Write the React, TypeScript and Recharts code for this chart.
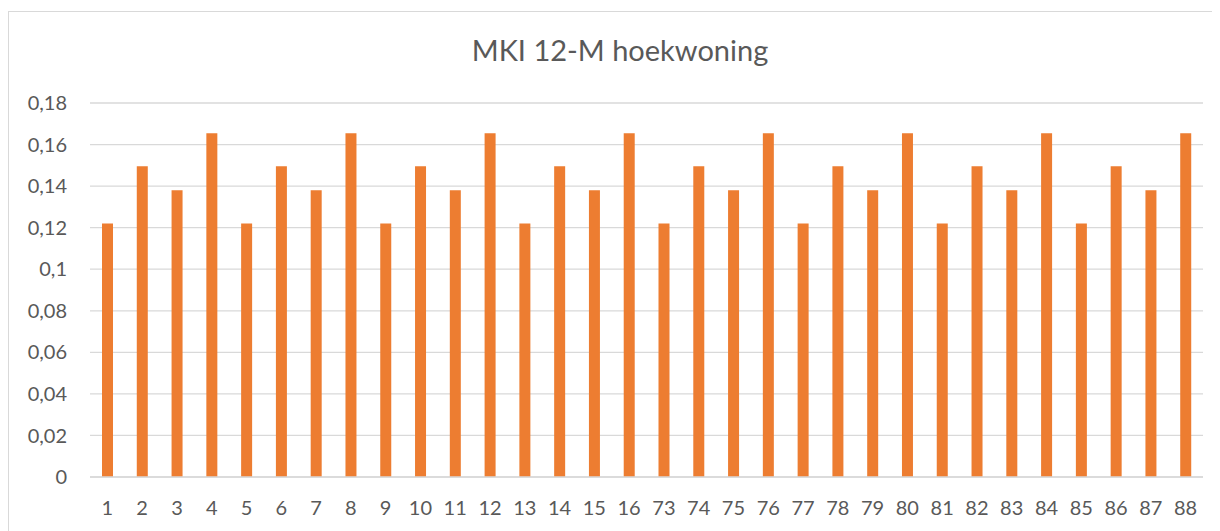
import React from 'react';
import { BarChart, Bar, XAxis, YAxis, CartesianGrid } from 'recharts';

const categories = ['1','2','3','4','5','6','7','8','9','10','11','12','13','14','15','16','73','74','75','76','77','78','79','80','81','82','83','84','85','86','87','88'];
const values = [0.122,0.1495,0.138,0.1655,0.122,0.1495,0.138,0.1655,0.122,0.1495,0.138,0.1655,0.122,0.1495,0.138,0.1655,0.122,0.1495,0.138,0.1655,0.122,0.1495,0.138,0.1655,0.122,0.1495,0.138,0.1655,0.122,0.1495,0.138,0.1655];
const yTicks = [0,0.02,0.04,0.06,0.08,0.1,0.12,0.14,0.16,0.18];
const yTickLabels = ['0','0,02','0,04','0,06','0,08','0,1','0,12','0,14','0,16','0,18'];
const title = 'MKI 12-M hoekwoning';

const data = categories.map((c, i) => ({ name: c, value: values[i] }));
const font = 'Lato, "Liberation Sans", sans-serif';
const textColor = '#595959';

export default function App() {
  return (
    <div style={{ position: 'relative', width: 1212, height: 523, overflow: 'hidden', fontFamily: font }}>
      <div style={{ position: 'absolute', left: 0, top: 3, width: 1240, height: 600, border: '1px solid #D9D9D9', boxSizing: 'border-box' }} />
      <div style={{ position: 'absolute', left: 312, top: 27, width: 600, textAlign: 'center', fontSize: 29, lineHeight: '30px', color: textColor }}>{title}</div>
      <div style={{ position: 'absolute', left: 0, top: 0 }}>
        <BarChart width={1212} height={523} data={data} margin={{ top: 95, right: 17, left: 0, bottom: 14 }}>
          <CartesianGrid horizontal vertical={false} stroke="#D9D9D9" strokeWidth={1.3} />
          <XAxis dataKey="name" interval={0} height={40} tickSize={0} tickMargin={24} axisLine={{ stroke: '#D9D9D9', strokeWidth: 1.3 }} tickLine={false} tick={{ fill: textColor, fontSize: 20, fontFamily: font }} />
          <YAxis width={82} domain={[0, 0.18]} ticks={yTicks} interval={0} tickSize={0} tickMargin={23} axisLine={false} tickLine={false} tickFormatter={(v: number) => yTickLabels[yTicks.indexOf(v)] ?? String(v).replace('.', ',')} tick={{ fill: textColor, fontSize: 20, fontFamily: font }} />
          <Bar dataKey="value" fill="#ED7D31" barSize={11} isAnimationActive={false} />
        </BarChart>
      </div>
    </div>
  );
}
